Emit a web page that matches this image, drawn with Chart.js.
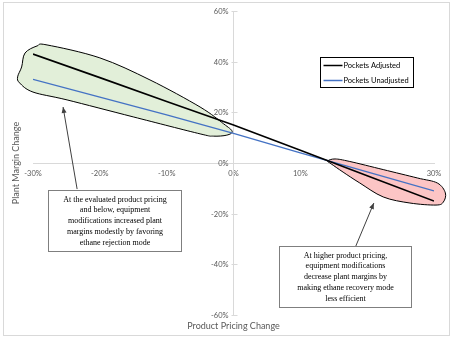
<!DOCTYPE html>
<html>
<head>
<meta charset="utf-8">
<script src="https://cdn.jsdelivr.net/npm/chart.js@4.4.1/dist/chart.umd.min.js"></script>
<style>
  html, body { margin: 0; padding: 0; background: #fff; }
  #wrap { position: relative; width: 452px; height: 339px; }
</style>
</head>
<body>
<div id="wrap"><canvas id="chart" width="452" height="339"></canvas></div>
<script>
// Chart values
const pricing = [-30, -20, -10, 0, 10, 20, 30];
const adjusted = [43, 33.7, 24.3, 15, 5, -5, -15];
const unadjusted = [33, 26, 19, 11.7, 4, -3.5, -11];
const seriesNames = ['Pockets Adjusted', 'Pockets Unadjusted'];
const xTicks = [-30, -20, -10, 0, 10, 20, 30];
const yTicks = [-60, -40, -20, 0, 20, 40, 60];

// Callout outlines (data coordinates)
const greenBlob = [[-31.2, 43.4], [-29.4, 46.2], [-27.9, 46.6], [-20, 41.5], [-12.5, 32.8], [-5, 22.1],
  [-1.5, 15.5], [-0.2, 12.5], [-1.0, 11.0], [-3, 10.6], [-5, 11.5], [-15, 18.2], [-24.9, 24.9],
  [-30, 28], [-32, 31.6], [-32.3, 34], [-31.7, 37.9]];
const pinkBlob = [[14.1, 0.8], [15.2, 1.6], [17.4, 0.6], [22.4, -2.6], [27.5, -5.9], [30.5, -7.9],
  [31.7, -11.8], [31.4, -15.4], [30.3, -16.6], [26.4, -15.8], [22.4, -13.4], [18.9, -7.9],
  [16.4, -3.6], [14.6, -0.3]];

// Text boxes: corners and arrow in data coordinates
const notes = [
  {
    lines: ['At the evaluated product pricing', 'and below, equipment', 'modifications increased plant',
      'margins modestly by favoring', 'ethane rejection mode'],
    box: [-27.8, -10.7, -7.9, -34.7],
    arrow: [-23.4, -10.3, -25.5, 22.1]
  },
  {
    lines: ['At higher product pricing,', 'equipment modifications', 'decrease plant margins by',
      'making ethane recovery mode', 'less efficient'],
    box: [6.8, -32.8, 26.6, -56.8],
    arrow: [18.3, -32.8, 21.0, -15.8]
  }
];

function toPoints(xs, ys) {
  return xs.map(function(x, i) { return {x: x, y: ys[i]}; });
}

function smoothClosed(ctx, pts) {
  var n = pts.length;
  ctx.beginPath();
  ctx.moveTo(pts[0][0], pts[0][1]);
  for (var i = 0; i < n; i++) {
    var p0 = pts[(i - 1 + n) % n], p1 = pts[i], p2 = pts[(i + 1) % n], p3 = pts[(i + 2) % n];
    ctx.bezierCurveTo(
      p1[0] + (p2[0] - p0[0]) / 6, p1[1] + (p2[1] - p0[1]) / 6,
      p2[0] - (p3[0] - p1[0]) / 6, p2[1] - (p3[1] - p1[1]) / 6,
      p2[0], p2[1]);
  }
  ctx.closePath();
}

const calloutPlugin = {
  id: 'callouts',
  beforeDraw: function(chart) {
    var ctx = chart.ctx;
    ctx.save();
    ctx.strokeStyle = '#d9d9d9';
    ctx.lineWidth = 1;
    ctx.strokeRect(3.5, 2.5, 446, 333);
    ctx.restore();
  },
  beforeDatasetsDraw: function(chart) {
    var ctx = chart.ctx, xs = chart.scales.x, ys = chart.scales.y;
    function px(p) { return [xs.getPixelForValue(p[0]), ys.getPixelForValue(p[1])]; }
    ctx.save();

    // y tick marks crossing the axis, and their labels left of it
    var ax = Math.round(xs.getPixelForValue(0)) + 0.5;
    ctx.strokeStyle = '#d9d9d9';
    ctx.lineWidth = 1;
    ctx.fillStyle = '#595959';
    ctx.font = '7.5px Lato';
    ctx.textAlign = 'right';
    ctx.textBaseline = 'middle';
    ys.ticks.forEach(function(t) {
      var y = Math.round(ys.getPixelForValue(t.value)) + 0.5;
      ctx.beginPath();
      ctx.moveTo(ax - 3, y);
      ctx.lineTo(ax + 3, y);
      ctx.stroke();
      ctx.fillText(t.value + '%', ax - 6, y);
    });

    [[greenBlob, '#e2efd9'], [pinkBlob, '#fcc5c5']].forEach(function(b) {
      smoothClosed(ctx, b[0].map(px));
      ctx.fillStyle = b[1];
      ctx.fill();
      ctx.strokeStyle = '#000';
      ctx.lineWidth = 1;
      ctx.stroke();
    });
    ctx.restore();
  },
  afterDraw: function(chart) {
    var ctx = chart.ctx, xs = chart.scales.x, ys = chart.scales.y;
    var area = chart.chartArea;
    ctx.save();

    // axis titles
    ctx.fillStyle = '#595959';
    ctx.font = '9px Lato';
    ctx.textAlign = 'center';
    ctx.textBaseline = 'middle';
    ctx.fillText('Product Pricing Change', (area.left + area.right) / 2, 326);
    ctx.save();
    ctx.translate(16, (area.top + area.bottom) / 2);
    ctx.rotate(-Math.PI / 2);
    ctx.fillText('Plant Margin Change', 0, 0);
    ctx.restore();

    // legend
    var lx = 320.5, ly = 57.5;
    ctx.fillStyle = '#fff';
    ctx.fillRect(lx, ly, 93, 30);
    ctx.strokeStyle = '#000';
    ctx.lineWidth = 1;
    ctx.strokeRect(lx, ly, 93, 30);
    ctx.font = '7.5px Lato';
    ctx.textAlign = 'left';
    ctx.fillStyle = '#000';
    chart.data.datasets.forEach(function(ds, i) {
      var y = ly + 8 + i * 15;
      ctx.strokeStyle = ds.borderColor;
      ctx.lineWidth = 1.5;
      ctx.beginPath();
      ctx.moveTo(lx + 3, y);
      ctx.lineTo(lx + 22, y);
      ctx.stroke();
      ctx.fillText(ds.label, lx + 23, y);
    });

    // text boxes with arrows
    notes.forEach(function(n) {
      var x1 = Math.round(xs.getPixelForValue(n.box[0])) + 0.5;
      var y1 = Math.round(ys.getPixelForValue(n.box[1])) + 0.5;
      var x2 = Math.round(xs.getPixelForValue(n.box[2])) + 0.5;
      var y2 = Math.round(ys.getPixelForValue(n.box[3])) + 0.5;
      var ax1 = xs.getPixelForValue(n.arrow[0]), ay1 = ys.getPixelForValue(n.arrow[1]);
      var ax2 = xs.getPixelForValue(n.arrow[2]), ay2 = ys.getPixelForValue(n.arrow[3]);
      ctx.strokeStyle = '#404040';
      ctx.fillStyle = '#404040';
      ctx.lineWidth = 1;
      ctx.beginPath();
      ctx.moveTo(ax1, ay1);
      ctx.lineTo(ax2, ay2);
      ctx.stroke();
      var ang = Math.atan2(ay2 - ay1, ax2 - ax1);
      ctx.beginPath();
      ctx.moveTo(ax2, ay2);
      ctx.lineTo(ax2 - 6 * Math.cos(ang) + 2.5 * Math.sin(ang), ay2 - 6 * Math.sin(ang) - 2.5 * Math.cos(ang));
      ctx.lineTo(ax2 - 6 * Math.cos(ang) - 2.5 * Math.sin(ang), ay2 - 6 * Math.sin(ang) + 2.5 * Math.cos(ang));
      ctx.closePath();
      ctx.fill();

      ctx.fillStyle = '#fff';
      ctx.fillRect(x1, y1, x2 - x1, y2 - y1);
      ctx.strokeStyle = '#7f7f7f';
      ctx.strokeRect(x1, y1, x2 - x1, y2 - y1);
      ctx.fillStyle = '#000';
      ctx.font = '8px "Liberation Serif"';
      ctx.textAlign = 'center';
      ctx.textBaseline = 'middle';
      var lh = (y2 - y1 - 18) / (n.lines.length - 1);
      n.lines.forEach(function(t, i) {
        ctx.fillText(t, (x1 + x2) / 2, y1 + 9 + i * lh);
      });
    });
    ctx.restore();
  }
};

new Chart(document.getElementById('chart'), {
  type: 'scatter',
  data: {
    datasets: [
      {
        label: seriesNames[0],
        data: toPoints(pricing, adjusted),
        showLine: true,
        borderColor: '#000000',
        borderWidth: 1.6,
        pointRadius: 0
      },
      {
        label: seriesNames[1],
        data: toPoints(pricing, unadjusted),
        showLine: true,
        borderColor: '#4472c4',
        borderWidth: 1.4,
        pointRadius: 0
      }
    ]
  },
  options: {
    responsive: false,
    animation: false,
    layout: { padding: { left: 33, right: 18, top: 11, bottom: 24 } },
    plugins: { legend: { display: false }, tooltip: { enabled: false } },
    scales: {
      x: {
        type: 'linear',
        position: { y: 0 },
        min: -30,
        max: 30,
        afterBuildTicks: function(s) { s.ticks = xTicks.map(function(v) { return {value: v}; }); },
        grid: { display: false, drawTicks: false },
        border: { color: '#d9d9d9', width: 1 },
        ticks: {
          color: '#595959',
          font: { family: 'Lato', size: 7.5 },
          padding: 6,
          maxRotation: 0,
          callback: function(v) { return v + '%'; }
        }
      },
      y: {
        type: 'linear',
        position: { x: 0 },
        min: -60,
        max: 60,
        afterBuildTicks: function(s) { s.ticks = yTicks.map(function(v) { return {value: v}; }); },
        grid: { display: false, drawTicks: false },
        border: { color: '#d9d9d9', width: 1 },
        ticks: { display: false }
      }
    }
  },
  plugins: [calloutPlugin]
});
</script>
</body>
</html>
